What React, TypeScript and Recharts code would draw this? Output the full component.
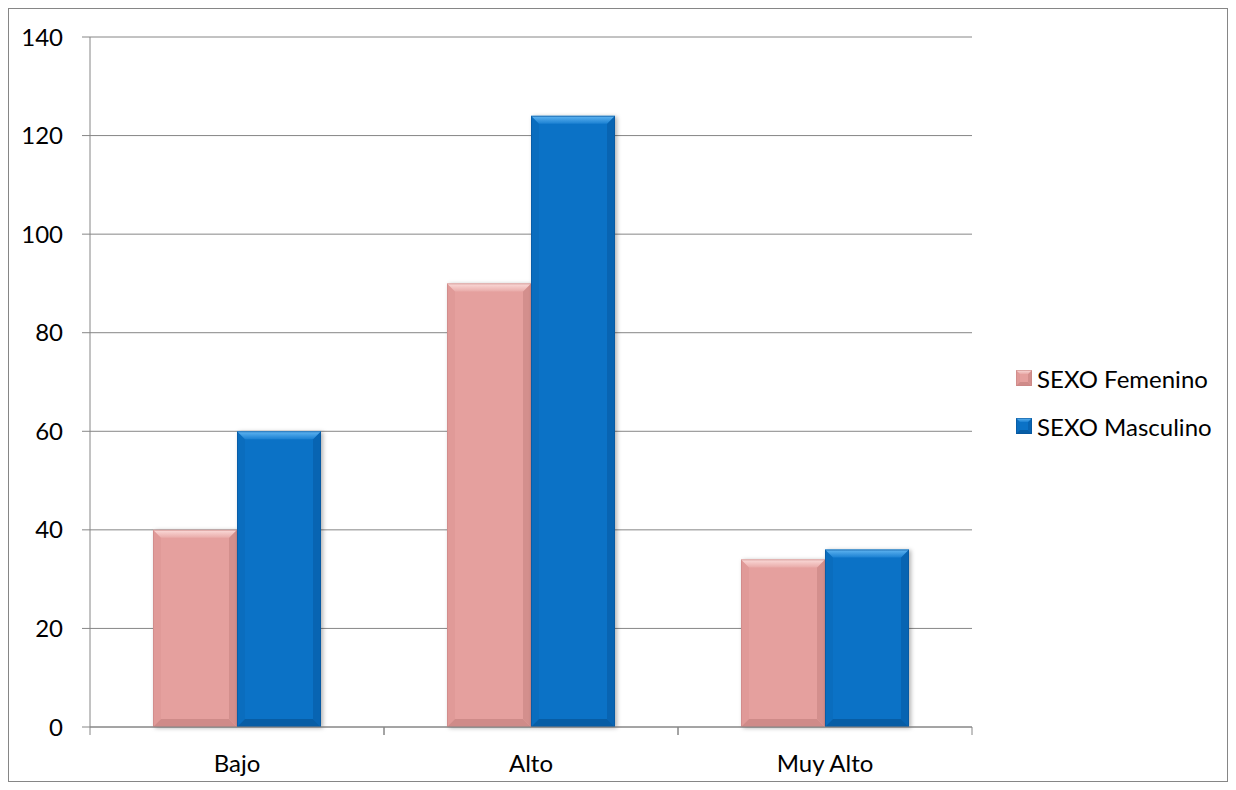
import { BarChart, Bar, XAxis, YAxis, CartesianGrid, Legend } from 'recharts';

const categories = ['Bajo', 'Alto', 'Muy Alto'];
const femenino = [40, 90, 34];
const masculino = [60, 124, 36];
const yTicks = [0, 20, 40, 60, 80, 100, 120, 140];
const seriesNames = ['SEXO Femenino', 'SEXO Masculino'];

const data = categories.map((name, i) => ({ name, fem: femenino[i], masc: masculino[i] }));

const FONT = 'Lato, "Open Sans", sans-serif';
const GRAY = '#868686';
const BAND = 294; // plot width / categories

const PINK = { id: 'pk', main: '#E5A09E', topA: '#FBDCDA', topB: '#E9ABA9', left: '#E09A98', right: '#D38F8D', bottom: '#CF8B89', edge: '#C88583' };
const BLUE = { id: 'bl', main: '#0B72C6', topA: '#62B6F2', topB: '#1A80D2', left: '#0A6DBE', right: '#0864B2', bottom: '#075DA5', edge: '#06539A' };

function bevel(x: number, y: number, w: number, h: number, pal: any, b: number, key: string) {
  const gid = `g-${pal.id}-${key}`;
  return (
    <g>
      <defs>
        <linearGradient id={gid} x1="0" y1="0" x2="0" y2="1">
          <stop offset="0%" stopColor={pal.topA} />
          <stop offset="100%" stopColor={pal.topB} />
        </linearGradient>
      </defs>
      <rect x={x} y={y} width={w} height={h} fill={pal.main} />
      <polygon points={`${x},${y} ${x + b},${y + b} ${x + b},${y + h - b} ${x},${y + h}`} fill={pal.left} />
      <polygon points={`${x + w},${y} ${x + w},${y + h} ${x + w - b},${y + h - b} ${x + w - b},${y + b}`} fill={pal.right} />
      <polygon points={`${x},${y + h} ${x + w},${y + h} ${x + w - b},${y + h - b} ${x + b},${y + h - b}`} fill={pal.bottom} />
      <polygon points={`${x},${y} ${x + w},${y} ${x + w - b},${y + b} ${x + b},${y + b}`} fill={`url(#${gid})`} />
      <rect x={x + 0.5} y={y + 0.5} width={w - 1} height={h - 1} fill="none" stroke={pal.edge} strokeOpacity={0.6} />
    </g>
  );
}

function BevelBar(props: any) {
  const { x, y, width, height, pal, index } = props;
  if (!height || height <= 0) return null;
  const b = Math.min(8, height / 2, width / 2);
  return (
    <g style={{ filter: 'drop-shadow(2px 1px 2px rgba(0,0,0,0.3))' }}>
      {bevel(x, y, width, height, pal, b, String(index))}
    </g>
  );
}

function XTick(props: any) {
  const { x, y, payload } = props;
  const axisY = y - 8;
  return (
    <g>
      <line x1={x - BAND / 2} y1={axisY} x2={x - BAND / 2} y2={axisY + 8} stroke={GRAY} />
      <line x1={x + BAND / 2} y1={axisY} x2={x + BAND / 2} y2={axisY + 8} stroke={GRAY} />
      <text x={x} y={axisY + 45} textAnchor="middle" fontSize={24} fontFamily={FONT} fill="#000">
        {payload.value}
      </text>
    </g>
  );
}

function renderLegend() {
  const pals = [PINK, BLUE];
  return (
    <div style={{ fontFamily: FONT, fontSize: 24, color: '#000' }}>
      {seriesNames.map((n, i) => (
        <div key={n} style={{ display: 'flex', alignItems: 'center', height: 48 }}>
          <svg width={16} height={16} style={{ marginRight: 5 }}>
            {bevel(0, 0, 16, 16, pals[i], 4, 'lg')}
          </svg>
          <span>{n}</span>
        </div>
      ))}
    </div>
  );
}

export default function App() {
  return (
    <div style={{ width: 1218, height: 772, border: `1px solid ${GRAY}` }}>
      <BarChart
        width={1218}
        height={772}
        data={data}
        margin={{ top: 28, right: 255, bottom: 0, left: 0 }}
        barGap={0}
        barSize={84}
      >
        <CartesianGrid vertical={false} stroke={GRAY} strokeWidth={1} />
        <XAxis
          dataKey="name"
          height={54}
          axisLine={{ stroke: GRAY }}
          tickLine={false}
          tickSize={8}
          tickMargin={0}
          tick={<XTick />}
          interval={0}
        />
        <YAxis
          width={81}
          domain={[0, 140]}
          ticks={yTicks}
          axisLine={{ stroke: GRAY }}
          tickLine={{ stroke: GRAY }}
          tickSize={8}
          tickMargin={19}
          tick={{ fontSize: 24, fontFamily: FONT, fill: '#000' }}
        />
        <Legend
          layout="horizontal"
          align="center"
          verticalAlign="middle"
          wrapperStyle={{ left: 1007, top: 345, width: 210 }}
          content={renderLegend}
        />
        <Bar dataKey="fem" name={seriesNames[0]} isAnimationActive={false} shape={(p: any) => <BevelBar {...p} pal={PINK} />} />
        <Bar dataKey="masc" name={seriesNames[1]} isAnimationActive={false} shape={(p: any) => <BevelBar {...p} pal={BLUE} />} />
      </BarChart>
    </div>
  );
}
